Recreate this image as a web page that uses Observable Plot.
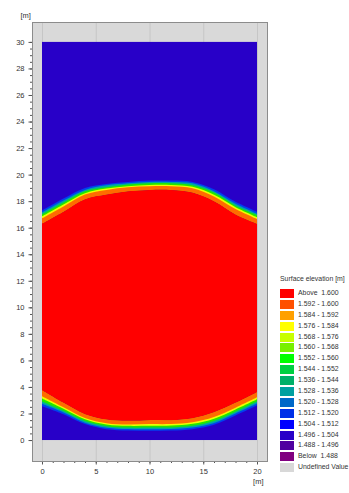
<!DOCTYPE html>
<html><head><meta charset="utf-8">
<script src="https://cdn.jsdelivr.net/npm/d3@7"></script>
<script src="https://cdn.jsdelivr.net/npm/@observablehq/plot@0.6"></script>
<style>
body{margin:0;background:#fff;font-family:"Liberation Sans",Arial,sans-serif;}
#wrap{position:relative;width:349px;height:493px;overflow:hidden;}
#legend{position:absolute;left:280px;top:276px;font-size:6.9px;color:#333;line-height:1;}
#legend .title{height:12px;white-space:nowrap;}
#legend .row{display:flex;align-items:center;height:10.9px;white-space:pre;}
#legend .sw{width:14px;height:9px;margin-right:4px;flex:none;}
</style></head><body><div id="wrap"></div>
<script>
// domain of the model area [m]
const domainX = [0, 20];
const domainY = [0, 30];
// x positions of the front contours [m]
const xs = [0, 2, 4, 6, 8, 10, 12, 14, 16, 18, 20];
// upper front: contour y [m], from red edge (U0) to blue edge (U5)
const U0 = [16.3, 17.2, 18.15, 18.5, 18.75, 18.85, 18.85, 18.65, 18.0, 17.0, 16.3];
const U1 = [16.7, 17.6, 18.5, 18.85, 19.05, 19.12, 19.12, 18.98, 18.35, 17.4, 16.65];
const U2 = [16.85, 17.75, 18.6, 18.95, 19.13, 19.22, 19.22, 19.08, 18.48, 17.55, 16.8];
const U3 = [17.0, 17.9, 18.75, 19.05, 19.25, 19.35, 19.35, 19.2, 18.65, 17.65, 16.95];
const U4 = [17.15, 18.05, 18.85, 19.2, 19.35, 19.45, 19.45, 19.35, 18.75, 17.8, 17.05];
const U5 = [17.3, 18.2, 19.0, 19.3, 19.45, 19.55, 19.55, 19.45, 18.9, 17.95, 17.2];
// lower front: contour y [m], from red edge (L0) to blue edge (L5)
const L0 = [3.75, 2.8, 1.95, 1.55, 1.45, 1.5, 1.5, 1.65, 2.1, 2.8, 3.6];
const L1 = [3.3, 2.47, 1.66, 1.27, 1.17, 1.2, 1.21, 1.34, 1.74, 2.44, 3.22];
const L2 = [3.13, 2.36, 1.56, 1.17, 1.07, 1.08, 1.09, 1.22, 1.61, 2.31, 3.08];
const L3 = [2.91, 2.21, 1.43, 1.04, 0.94, 0.94, 0.95, 1.07, 1.44, 2.14, 2.9];
const L4 = [2.73, 2.08, 1.31, 0.93, 0.83, 0.82, 0.84, 0.94, 1.29, 2.0, 2.75];
const L5 = [2.55, 1.95, 1.2, 0.82, 0.72, 0.7, 0.72, 0.82, 1.15, 1.85, 2.6];
// colours
const fieldColor = "#2800c8";   // 1.496 - 1.504
const redColor = "#ff0000";     // above 1.600
const bandColors = ["#ff6c00", "#ecff00", "#20e800", "#00a8a0", "#0040f0"];
// ticks
const yMajor = d3.range(0, 31, 2);
const yMinor = d3.range(0, 30.01, 0.5);
const xMajor = [0, 5, 10, 15, 20];
const xMinor = d3.range(0, 21, 1);
// legend
const legendTitle = "Surface elevation [m]";
const legendLabels = ["Above  1.600","1.592 - 1.600","1.584 - 1.592","1.576 - 1.584","1.568 - 1.576","1.560 - 1.568","1.552 - 1.560","1.544 - 1.552","1.536 - 1.544","1.528 - 1.536","1.520 - 1.528","1.512 - 1.520","1.504 - 1.512","1.496 - 1.504","1.488 - 1.496","Below  1.488","Undefined Value"];
const legendColors = ["#ff0000","#ff5000","#ffa000","#ffff00","#c8ff00","#78f000","#00ff00","#00d040","#00b068","#00a0a0","#0068c8","#0030e8","#0000ff","#2800c8","#5000a0","#800080","#d8d8d8"];

const rows = xs.map((x, i) => ({x, i}));
const upper = [U0, U1, U2, U3, U4, U5];
const lower = [L0, L1, L2, L3, L4, L5];
const curve = "catmull-rom";
const bandMarks = [];
for (let k = 5; k >= 1; k--) {
  bandMarks.push(Plot.areaY(rows, {x: "x", y1: d => upper[0][d.i], y2: d => upper[k][d.i], fill: bandColors[k - 1], curve}));
  bandMarks.push(Plot.areaY(rows, {x: "x", y1: d => lower[0][d.i], y2: d => lower[k][d.i], fill: bandColors[k - 1], curve}));
}

const chart = Plot.plot({
  width: 349, height: 493,
  marginLeft: 32, marginRight: 82, marginTop: 22, marginBottom: 32,
  x: {domain: [-0.93, 20.93]},
  y: {domain: [-1.58, 31.5]},
  style: {fontSize: "7.5px", fontFamily: "Liberation Sans, Arial, sans-serif", color: "#333", background: "transparent"},
  marks: [
    Plot.frame({fill: "#d9d9d9"}),
    Plot.gridX(xMajor, {stroke: "#c6c6c6", strokeOpacity: 1}),
    Plot.rect([{x1: domainX[0], x2: domainX[1], y1: domainY[0], y2: domainY[1]}], {x1: "x1", x2: "x2", y1: "y1", y2: "y2", fill: fieldColor}),
    ...bandMarks,
    Plot.areaY(rows, {x: "x", y1: d => L0[d.i], y2: d => U0[d.i], fill: redColor, curve}),
    Plot.axisY(yMinor, {tickSize: 2, tickFormat: () => "", label: null, stroke: "#555"}),
    Plot.axisY(yMajor, {tickSize: 3.5, tickPadding: 4.5, label: null, stroke: "#555"}),
    Plot.axisX(xMinor, {tickSize: 2, tickFormat: () => "", label: null, stroke: "#555"}),
    Plot.axisX(xMajor, {tickSize: 3.5, tickPadding: 3.5, label: null, stroke: "#555"}),
    Plot.frame({stroke: "#8c8c8c"}),
    Plot.text(["[m]"], {frameAnchor: "top-left", dx: -12, dy: -10, fill: "#333"}),
    Plot.text(["[m]"], {frameAnchor: "bottom-right", dx: -4, dy: 22, fill: "#333"})
  ]
});
const wrap = document.getElementById("wrap");
wrap.appendChild(chart);
const leg = document.createElement("div");
leg.id = "legend";
const t = document.createElement("div");
t.className = "title"; t.textContent = legendTitle;
leg.appendChild(t);
legendLabels.forEach((lab, i) => {
  const r = document.createElement("div"); r.className = "row";
  const s = document.createElement("div"); s.className = "sw"; s.style.background = legendColors[i];
  const l = document.createElement("span"); l.textContent = lab;
  r.appendChild(s); r.appendChild(l); leg.appendChild(r);
});
wrap.appendChild(leg);
</script></body></html>
